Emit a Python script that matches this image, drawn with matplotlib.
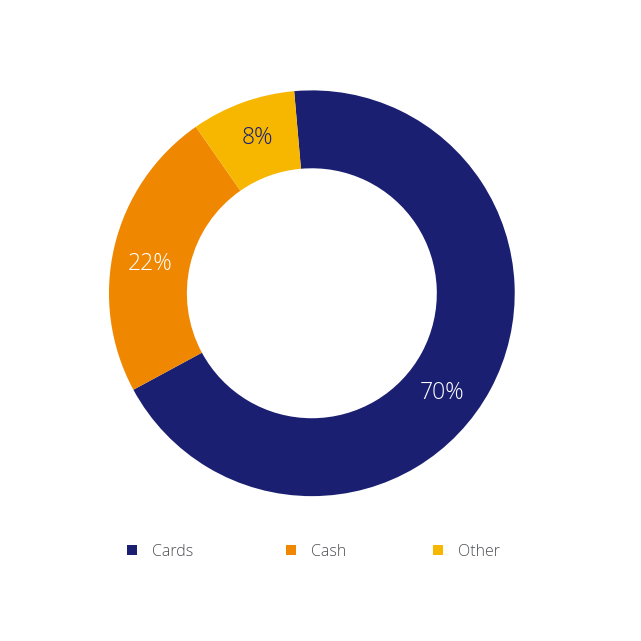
import numpy as np
import matplotlib.pyplot as plt
from matplotlib.patches import Patch

plt.rcParams['font.family'] = ['Open Sans', 'DejaVu Sans']

# Share of payments by method (wedge sizes as drawn, labels as printed)
labels = ['Cards', 'Cash', 'Other']
shares = [68.5, 23.2, 8.3]
pct_labels = ['70%', '22%', '8%']
colors = ['#1a1f71', '#f08700', '#f7b600']
pct_colors = ['white', 'white', '#1a1f71']

fig = plt.figure(figsize=(6.41, 6.41), dpi=100)
ax = fig.add_axes([0.170, 0.226, 0.633, 0.633])

wedges, _ = ax.pie(shares, colors=colors, startangle=95, counterclock=False,
                   radius=1.0, wedgeprops=dict(width=0.384, edgecolor='none'))

# percentage labels sit in the middle of the ring, nudged like the original
label_angle = [127.5, 280.2, -19.3]   # degrees clockwise from top
for txt, ang, c in zip(pct_labels, label_angle, pct_colors):
    a = np.deg2rad(90 - ang)
    ax.text(0.81 * np.cos(a), 0.81 * np.sin(a), txt, color=c,
            fontsize=16.5, fontweight='light', ha='center', va='center')

ax.set_xlim(-1, 1)
ax.set_ylim(-1, 1)
ax.set_aspect('equal')

# legend: one entry per item, spread across the bottom
legend_x = [127, 286, 433]
for lab, c, x in zip(labels, colors, legend_x):
    leg = fig.legend([Patch(facecolor=c, edgecolor='none')], [lab],
                     loc='center left', bbox_to_anchor=(x / 641, 1 - 551.5 / 641),
                     frameon=False, fontsize=11.5, handlelength=0.63,
                     handleheight=0.63, handletextpad=0.95, borderpad=0,
                     borderaxespad=0)
    for t in leg.get_texts():
        t.set_color('#4d4f53')
        t.set_fontweight('light')

fig.savefig('out.png', dpi=100)
